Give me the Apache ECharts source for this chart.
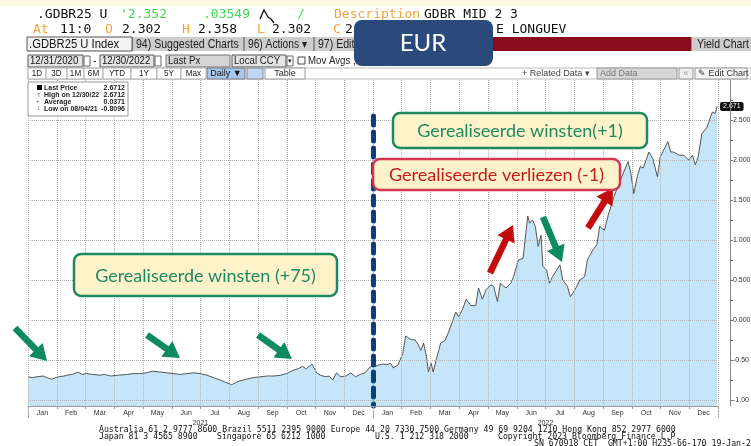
<!DOCTYPE html>
<html>
<head>
<meta charset="utf-8">
<script src="https://cdn.jsdelivr.net/npm/echarts@6/dist/echarts.min.js"></script>
<style>
  html, body { margin: 0; padding: 0; background: #fff; }
  #chart { width: 751px; height: 446px; }
</style>
</head>
<body>
<div id="chart"></div>
<script>
// --- data ---
const dates = [
  '2021-01-01','2021-01-06','2021-01-10','2021-01-17','2021-01-21','2021-01-26','2021-02-02','2021-02-08',
  '2021-02-11','2021-02-17','2021-02-23','2021-02-27','2021-03-04','2021-03-10','2021-03-18','2021-03-23',
  '2021-03-29','2021-04-06','2021-04-16','2021-04-22','2021-04-29','2021-05-06','2021-05-13','2021-05-20',
  '2021-05-28','2021-06-04','2021-06-11','2021-06-18','2021-06-25','2021-07-02','2021-07-09','2021-07-16',
  '2021-07-23','2021-07-29','2021-08-04','2021-08-09','2021-08-13','2021-08-20','2021-08-27','2021-09-03',
  '2021-09-11','2021-09-18','2021-09-25','2021-10-01','2021-10-08','2021-10-13','2021-10-18','2021-10-22',
  '2021-10-28','2021-11-02','2021-11-06','2021-11-11','2021-11-15','2021-11-19','2021-11-23','2021-11-27',
  '2021-12-03','2021-12-08','2021-12-13','2021-12-18','2021-12-23','2021-12-29',
  '2022-01-03','2022-01-07','2022-01-11','2022-01-15','2022-01-19','2022-01-22','2022-01-27','2022-02-01',
  '2022-02-04','2022-02-09','2022-02-14','2022-02-17','2022-02-20','2022-02-23','2022-02-26','2022-02-28',
  '2022-03-03','2022-03-05','2022-03-10','2022-03-13','2022-03-18','2022-03-23','2022-03-29','2022-04-01',
  '2022-04-05','2022-04-09','2022-04-14','2022-04-19','2022-04-22','2022-04-26','2022-04-30','2022-05-05',
  '2022-05-08','2022-05-12','2022-05-15','2022-05-21','2022-05-26','2022-05-29','2022-06-03','2022-06-08',
  '2022-06-13','2022-06-15','2022-06-18','2022-06-21','2022-06-24','2022-06-27','2022-06-29','2022-07-03',
  '2022-07-06','2022-07-09','2022-07-14','2022-07-17','2022-07-20','2022-07-25','2022-07-28','2022-08-02',
  '2022-08-07','2022-08-12','2022-08-15','2022-08-21','2022-08-25','2022-08-28','2022-09-02','2022-09-06',
  '2022-09-12','2022-09-19','2022-09-27','2022-09-30','2022-10-03','2022-10-07','2022-10-10','2022-10-13',
  '2022-10-19','2022-10-23','2022-10-28','2022-10-31','2022-11-08','2022-11-11','2022-11-14','2022-11-20',
  '2022-11-25','2022-11-30','2022-12-04','2022-12-07','2022-12-10','2022-12-14','2022-12-19','2022-12-25',
  '2022-12-28','2022-12-30'
];
const yields = [
  -0.71,-0.72,-0.71,-0.70,-0.72,-0.74,-0.71,-0.70,
  -0.69,-0.68,-0.65,-0.68,-0.67,-0.68,-0.69,-0.68,
  -0.70,-0.69,-0.68,-0.67,-0.67,-0.66,-0.64,-0.65,
  -0.66,-0.67,-0.68,-0.67,-0.66,-0.67,-0.69,-0.72,
  -0.75,-0.78,-0.81,-0.78,-0.76,-0.74,-0.72,-0.71,
  -0.70,-0.70,-0.69,-0.67,-0.63,-0.61,-0.58,-0.61,
  -0.55,-0.66,-0.69,-0.71,-0.70,-0.75,-0.66,-0.71,
  -0.70,-0.66,-0.71,-0.68,-0.66,-0.58,
  -0.58,-0.56,-0.55,-0.56,-0.54,-0.60,-0.56,-0.42,
  -0.20,-0.24,-0.25,-0.30,-0.38,-0.29,-0.46,-0.65,
  -0.54,-0.65,-0.42,-0.29,-0.25,-0.10,0.10,0.04,
  0.13,0.26,0.18,0.18,0.40,0.26,0.38,0.44,
  0.42,0.23,0.46,0.40,0.46,0.54,0.75,0.77,
  1.30,1.21,1.25,1.17,0.92,1.06,0.67,0.62,
  0.46,0.54,0.63,0.69,0.50,0.42,0.29,0.38,
  0.50,0.54,0.75,0.88,0.94,1.17,1.12,1.31,
  1.54,1.75,1.98,1.83,1.58,1.81,1.92,1.90,
  2.10,2.02,1.79,2.04,2.23,2.10,2.10,2.06,
  2.06,2.00,2.06,1.94,2.04,2.33,2.40,2.60,
  2.58,2.67
];
const months = ['Jan','Feb','Mar','Apr','May','Jun','Jul','Aug','Sep','Oct','Nov','Dec',
                'Jan','Feb','Mar','Apr','May','Jun','Jul','Aug','Sep','Oct','Nov','Dec'];
const years = ['2021', '2022'];
const yLabelVals = [-1, -0.5, 0, 0.5, 1, 1.5, 2, 2.5];
const yLabelText = ['-1.00', '-0.50', '0.000', '0.500', '1.000', '1.500', '2.000', '2.500'];
const yTickVals = [-1,-0.75,-0.5,-0.25,0,0.25,0.5,0.75,1,1.25,1.5,1.75,2,2.25,2.5,2.75];
const lastPrice = '2.671';
const statNames = ['Last Price', 'High on 12/30/22', 'Average', 'Low on 08/04/21'];
const statValues = ['2.6712', '2.6712', '0.0371', '-0.8096'];
const periodButtons = ['1D', '3D', '1M', '6M', 'YTD', '1Y', '5Y', 'Max'];

const chart = echarts.init(document.getElementById('chart'));

const MONO = "'DejaVu Sans Mono', monospace";
const SANS = "'Liberation Sans', Arial, sans-serif";

function t(x, y, text, fill, size, family, extra, sx) {
  return { type: 'text', x: x, y: y, z: 70, scaleX: sx || 1,
    style: Object.assign({ text: text, fill: fill, fontSize: size, fontFamily: family, verticalAlign: 'middle' }, extra || {}) };
}
function box(x, y, w, h, fill, stroke, r) {
  return { type: 'rect', z: 40, shape: { x: x, y: y, width: w, height: h, r: r || 0 },
    style: { fill: fill, stroke: stroke || null, lineWidth: stroke ? 1 : 0 } };
}
function arrow(x1, y1, x2, y2, color) {
  const dx = x2 - x1, dy = y2 - y1, L = Math.hypot(dx, dy);
  const ux = dx / L, uy = dy / L, px = -uy, py = ux;
  const hl = 16, sw = 3.3, hw = 9.5;
  const bx = x2 - ux * hl, by = y2 - uy * hl;
  return { type: 'polygon', z: 100, shape: { points: [
      [x1 + px * sw, y1 + py * sw], [bx + px * sw, by + py * sw], [bx + px * hw, by + py * hw],
      [x2, y2], [bx - px * hw, by - py * hw], [bx - px * sw, by - py * sw], [x1 - px * sw, y1 - py * sw]] },
    style: { fill: color } };
}
function note(x, y, w, h, text, stroke, color) {
  return [
    { type: 'rect', z: 110, shape: { x: x, y: y, width: w, height: h, r: 7 },
      style: { fill: '#fef2cb', stroke: stroke, lineWidth: 2.5 } },
    { type: 'text', z: 111, x: x + w / 2, y: y + h / 2 + 1,
      style: { text: text, fill: color, fontSize: 18, fontFamily: 'Lato, sans-serif', align: 'center', verticalAlign: 'middle' } }
  ];
}

const GREEN = '#0e8a5f', RED = '#c30d0d';

const graphics = [
  // top strip
  box(0, 0, 751, 6, '#fdf8e1'),
  // row 1
  t(37, 14.5, '.GDBR25 U', '#111', 13, MONO),
  t(120, 14.5, "'2.352", '#3bdc4f', 13, MONO),
  t(203, 14.5, '.03549', '#3bdc4f', 13, MONO),
  { type: 'polyline', z: 50, shape: { points: [[260, 19], [264, 10], [268, 17], [271, 19], [274, 23]] },
    style: { stroke: '#111', lineWidth: 1.3, fill: null } },
  t(297, 14.5, '/', '#3bdc4f', 13, MONO),
  t(334, 14.5, 'Description', '#f4a33a', 13, MONO),
  t(424, 14.5, 'GDBR MID 2 3', '#111', 13, MONO),
  // row 2
  t(33, 29.5, 'At', '#f4a33a', 13, MONO),
  t(60, 29.5, '11:0', '#111', 13, MONO),
  t(105, 29.5, 'O', '#f4a33a', 13, MONO),
  t(122, 29.5, '2.302', '#111', 13, MONO),
  t(182, 29.5, 'H', '#f4a33a', 13, MONO),
  t(198, 29.5, '2.358', '#111', 13, MONO),
  t(257, 29.5, 'L', '#f4a33a', 13, MONO),
  t(272, 29.5, '2.302', '#111', 13, MONO),
  t(333, 29.5, 'C', '#f4a33a', 13, MONO),
  t(345, 29.5, '2', '#111', 13, MONO),
  t(496, 29.5, 'E LONGUEV', '#111', 13, MONO),
  // row 3 toolbar
  box(27, 37, 724, 14, '#8f8f8f'),
  box(27, 37, 105, 14, '#f4f4f4', '#555'),
  t(29, 44.5, '.GDBR25 U Index', '#111', 12.5, SANS, null, 0.9),
  box(133, 37, 110, 14, '#cdcdcd'),
  t(136, 44.5, '94) Suggested Charts', '#222', 12, SANS, null, 0.88),
  box(245, 37, 68, 14, '#cdcdcd'),
  t(248, 44.5, '96) Actions \u25BE', '#222', 12, SANS, null, 0.85),
  box(315, 37, 178, 14, '#cdcdcd'),
  t(318, 44.5, '97) Edit', '#222', 12, SANS, null, 0.88),
  box(493, 37, 198, 14, '#8a0c1c'),
  box(692, 37, 59, 14, '#cdcdcd'),
  t(697, 44.5, 'Yield Chart', '#222', 12, SANS, null, 0.88),
  // row 4
  box(28, 55, 55, 12, '#e4e4e4', '#555'),
  t(30, 61, '12/31/2020', '#111', 10.5, SANS, null, 0.92),
  box(84, 56, 6, 10, '#fff', '#666'),
  t(93, 61, '-', '#111', 10.5, SANS),
  box(100, 55, 54, 12, '#e4e4e4', '#555'),
  t(102, 61, '12/30/2022', '#111', 10.5, SANS, null, 0.92),
  box(155, 56, 6, 10, '#fff', '#666'),
  box(166, 55, 64, 12, '#d4d4d4', '#777'),
  t(168, 61, 'Last Px', '#222', 10.5, SANS, null, 0.92),
  box(232, 55, 54, 12, '#e4e4e4', '#555'),
  t(234, 61, 'Local CCY', '#222', 10.5, SANS, null, 0.92),
  box(287, 56, 6, 10, '#fff', '#666'),
  t(288, 61, '\u25BE', '#222', 7, SANS),
  box(298, 57, 7, 7, '#fff', '#444'),
  t(308, 61, 'Mov Avgs ,', '#222', 10.5, SANS, null, 0.92),
  // row 5
  box(28, 68, 723, 11, '#fff', '#bbb'),
  box(207, 68, 38, 11, '#a7c7ef', '#777'),
  t(226, 73.5, 'Daily \u25BC', '#111', 9, SANS, { align: 'center' }),
  box(247, 68, 16, 11, '#c0d8f5', '#888'),
  box(265, 68, 40, 11, '#fff', '#999'),
  t(285, 73.5, 'Table', '#222', 9, SANS, { align: 'center' }),
  t(522, 73.5, '+ Related Data \u25BE', '#444', 9, SANS),
  box(597, 68, 80, 11, '#d6d6d6', '#999'),
  t(600, 73.5, 'Add Data', '#777', 9, SANS),
  box(679, 68, 14, 11, '#eee', '#999'),
  t(686, 73.5, '\u00AB', '#999', 9, SANS, { align: 'center' }),
  box(695, 68, 52, 11, '#f4f4f4', '#999'),
  t(698, 73.5, '\u270E Edit Chart', '#333', 9, SANS),
  // EUR badge
  { type: 'rect', z: 120, shape: { x: 354, y: 20, width: 139, height: 46, r: 8 }, style: { fill: '#2b4a7c' } },
  { type: 'text', z: 121, x: 423, y: 43,
    style: { text: 'EUR', fill: '#fff', fontSize: 24, fontFamily: 'Lato, sans-serif', align: 'center', verticalAlign: 'middle' } },
  // stats box
  { type: 'rect', z: 60, shape: { x: 28, y: 82, width: 100, height: 34 }, style: { fill: '#fff', stroke: '#999', lineWidth: 1 } },
  Object.assign(box(37, 85, 5, 5, '#000'), { z: 65 }),
  t(37, 95, 'T', '#666', 6, SANS),
  t(36, 101.7, '+', '#666', 6, SANS),
  t(36, 108.7, '\u22A5', '#666', 6, SANS),
  // footer
  t(99, 430, 'Australia 61 2 9777 8600 Brazil 5511 2395 9000 Europe 44 20 7330 7500 Germany 49 69 9204 1210 Hong Kong 852 2977 6000', '#111', 8.2, MONO),
  t(99, 437, 'Japan 81 3 4565 8900', '#111', 8.2, MONO),
  t(217, 437, 'Singapore 65 6212 1000', '#111', 8.2, MONO),
  t(375, 437, 'U.S. 1 212 318 2000', '#111', 8.2, MONO),
  t(498, 437, 'Copyright 2023 Bloomberg Finance L.P.', '#111', 8.2, MONO),
  t(534, 443.5, 'SN 670918 CET  GMT+1:00 H235-66-170 19-Jan-2023 11:04:03', '#111', 8.2, MONO),
  // annotations
  ...note(393, 113, 254, 35, 'Gerealiseerde winsten(+1)', '#1c8a5c', '#1f8a62'),
  ...note(373, 159, 247, 31, 'Gerealiseerde verliezen (-1)', '#d3374f', '#c41a1a'),
  ...note(74, 254, 263, 42, 'Gerealiseerde winsten (+75)', '#1c8a5c', '#1f8a62'),
  arrow(15, 328, 47, 361, GREEN),
  arrow(147, 335, 180, 358, GREEN),
  arrow(258, 335, 292, 359, GREEN),
  arrow(543, 217, 562, 262, GREEN),
  arrow(490, 273, 513, 225, RED),
  arrow(588, 228, 613, 188, RED)
];
// period buttons on row 5
const btnEdges = [28, 46, 67, 84, 103, 131, 157, 181, 206];
periodButtons.forEach((b, i) => {
  graphics.push(box(btnEdges[i], 68, btnEdges[i + 1] - btnEdges[i], 11, '#fff', '#aaa'));
  graphics.push(t((btnEdges[i] + btnEdges[i + 1]) / 2, 73.5, b, '#222', 9, SANS, { align: 'center' }, 0.9));
});
statNames.forEach((n, i) => {
  const y = [87.7, 95, 101.7, 108.7][i];
  graphics.push(t(44, y, n, '#222', 7, SANS, { fontWeight: 'bold' }));
  graphics.push(t(125, y, statValues[i], '#222', 7, SANS, { align: 'right', fontWeight: 'bold' }));
});

const gridLines = yLabelVals.map(v => ({ yAxis: v }));
gridLines.push([
  { coord: ['2022-01-01', 2.55], lineStyle: { color: '#0b3f80', width: 5, type: [9, 7], cap: 'round' } },
  { coord: ['2022-01-01', -1.075] }
]);

const option = {
  animation: false,
  grid: { left: 28, right: 33, top: 80, bottom: 40, outerBoundsMode: 'none' },
  xAxis: [
    { type: 'time', min: '2021-01-01', max: '2022-12-31', show: false },
    { type: 'category', data: months, position: 'bottom', boundaryGap: true, z: 5,
      axisLine: { lineStyle: { color: '#999', width: 1 } },
      axisTick: { show: true, interval: 0, length: 3, lineStyle: { color: '#999' } },
      axisLabel: { interval: 0, fontSize: 7, color: '#333', margin: 4, fontFamily: SANS },
      splitLine: { show: true, interval: 0, lineStyle: { type: 'dotted', color: '#b3b3b3' } } },
    { type: 'category', data: years, position: 'bottom', offset: 12, boundaryGap: true,
      axisLine: { show: false },
      axisTick: { show: true, inside: true, length: 8, lineStyle: { color: '#aaa' } },
      axisLabel: { fontSize: 7, color: '#333', margin: 2, fontFamily: SANS },
      splitLine: { show: false } }
  ],
  yAxis: {
    type: 'value', position: 'right', offset: 12, min: -1.075, max: 3, z: 5,
    axisLine: { show: true, lineStyle: { color: '#888' } },
    axisTick: { show: true, customValues: yTickVals, length: 3, lineStyle: { color: '#777' } },
    axisLabel: { customValues: yLabelVals, fontSize: 7, color: '#333', margin: 3, fontFamily: SANS,
      formatter: v => { const i = yLabelVals.indexOf(v); return i >= 0 ? yLabelText[i] : String(v); } },
    splitLine: { show: false }
  },
  series: [{
    type: 'line',
    xAxisIndex: 0,
    data: dates.map((d, i) => [d, yields[i]]),
    showSymbol: false,
    symbol: 'none',
    lineStyle: { color: '#555', width: 1 },
    areaStyle: { color: '#c6e5f8', opacity: 1, origin: 'start' },
    endLabel: { show: true, formatter: lastPrice, color: '#fff', backgroundColor: '#111',
      fontSize: 7, padding: [1, 3], borderRadius: 2, distance: 3, fontFamily: SANS },
    markLine: { silent: true, symbol: ['none', 'none'], label: { show: false },
      lineStyle: { type: 'dotted', color: '#b3b3b3', width: 1 }, data: gridLines }
  }],
  graphic: graphics
};
chart.setOption(option);
</script>
</body>
</html>
